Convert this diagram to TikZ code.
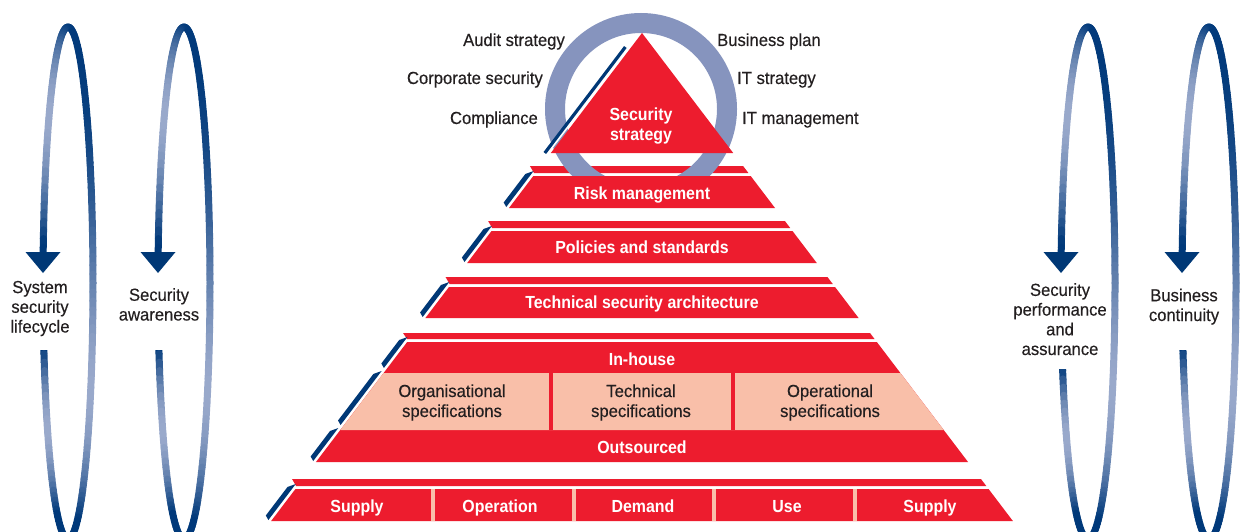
\documentclass[tikz,border=0pt]{standalone}
\usepackage{fontspec}
\setmainfont{Liberation Sans}
\newfontfamily\labelfont{Liberation Sans}[FakeStretch=0.95, FakeBold=0.35]
\newfontfamily\layerfont{Liberation Sans}[FakeStretch=0.91]

\definecolor{pyred}{RGB}{237,28,46}
\definecolor{peach}{RGB}{249,191,169}
\definecolor{navy}{RGB}{0,56,118}
\definecolor{ringblue}{RGB}{134,148,190}
\definecolor{loopdark}{RGB}{0,57,122}
\definecolor{looplight}{RGB}{186,193,221}
\definecolor{inkdark}{RGB}{35,31,32}

\tikzset{
  loopstroke/.style={line width=7pt, line cap=round},
  toplabel/.style={text=inkdark, inner sep=0pt, font=\labelfont\fontsize{17.5}{19.7}\selectfont},
  sidelabel/.style={toplabel, align=center, anchor=base},
  speclabel/.style={text=inkdark, inner sep=0pt, align=center, anchor=base,
    font=\labelfont\fontsize{17.5}{20}\selectfont},
  layerlabel/.style={text=white, inner sep=0pt, anchor=base, align=center,
    font=\layerfont\bfseries\fontsize{17.5}{20}\selectfont},
  divider/.style={line width=4pt},
}

% tall gradient loop: centre x, centre y, x radius, y radius, y where the lower left part resumes
\newcommand{\gradloop}[5]{%
  \begin{scope}[even odd rule]
    \clip ({#1-#3-20},0) rectangle ({#1+#3+20},545)
          ({#1-#3-20},252) rectangle (#1,#5);
    % right side: dark at the top, lightest low down
    \foreach \a in {0,2,...,178}{%
      \pgfmathsetmacro\yv{#2-#4*cos(\a+1)}%
      \pgfmathsetmacro\tv{max(0.001,min(1,(\yv-27)/493))}%
      \pgfmathtruncatemacro\mixp{100-82*sin(180*\tv^2.3)}%
      \draw[loopstroke, draw=loopdark!\mixp!looplight]
        ({#1+#3*sin(\a)},{#2-#4*cos(\a)}) -- ({#1+#3*sin(\a+2)},{#2-#4*cos(\a+2)});
    }
    % left side: two runs, above and below the label
    \foreach \a in {0,2,...,178}{%
      \pgfmathsetmacro\yv{#2-#4*cos(\a+1)}%
      \ifdim\yv pt<252pt
        \pgfmathsetmacro\tv{max(0.001,min(1,(\yv-27)/218))}%
        \pgfmathtruncatemacro\mixp{100-82*sin(180*\tv^0.8)}%
      \else
        \pgfmathsetmacro\tv{max(0,min(1,(\yv-#5)/(515-#5)))}%
        \pgfmathtruncatemacro\mixp{100-82*sin(180*\tv)}%
      \fi
      \draw[loopstroke, draw=loopdark!\mixp!looplight]
        ({#1-#3*sin(\a)},{#2-#4*cos(\a)}) -- ({#1-#3*sin(\a+2)},{#2-#4*cos(\a+2)});
    }
  \end{scope}
  \fill[navy] ({#1-#3-17.5},252) -- ({#1-#3+17.5},252) -- ({#1-#3},273) -- cycle;
}

% white ground and red top strip of one slab: strip top, strip bottom, face top, face bottom
\newcommand{\slabground}[4]{%
  \fill[white] ({xl(#1)-13},{#1-1}) -- ({xr(#1)+1},{#1-1}) -- ({xr(#4)+1},{#4+1}) -- ({xl(#4)-13},{#4+1}) -- cycle;
  \fill[pyred] ({xl(#1)-11},#1) -- ({xr(#1)},#1) -- ({xr(#2)},#2) -- ({xl(#1)-7},#2) -- cycle;
}
% red front face of a slab between two heights
\newcommand{\slabface}[2]{%
  \fill[pyred] ({xl(#1)},#1) -- ({xr(#1)},#1) -- ({xr(#2)},#2) -- ({xl(#2)},#2) -- cycle;
}
% dark blue side face running down the left edge
\newcommand{\sidebar}[2]{%
  \fill[navy] ({xl(#1-2)-3.5},{#1-2}) -- ({xl(#2)-3.5},#2) -- ({xl(#2-4.5)-9.5},{#2-4.5}) -- ({xl(#1+1)-9.5},{#1+1}) -- cycle;
}

\begin{document}
\begin{tikzpicture}[x=1pt, y=-1pt,
  declare function={xl(\t)=642-0.76*(\t-33); xr(\t)=642+0.76*(\t-33);}]
\useasboundingbox (0,0) rectangle (1241,532);

% ---- the four cycles at the sides
\gradloop{68}{283}{25}{256}{350}
\gradloop{184}{283}{26}{256}{350}
\gradloop{1088}{283}{27}{256}{369}
\gradloop{1209}{283}{27}{256}{350}

% multi-line labels are placed by the baseline of their last line
\node[sidelabel] (lifecycle) at (40,332.5) {System\\security\\lifecycle};
\node[sidelabel] (awareness) at (159,320.5) {Security\\awareness};
\node[sidelabel] (assurance) at (1060,355) {Security\\performance\\and\\assurance};
\node[sidelabel] (continuity) at (1184,321) {Business\\continuity};

% ---- first slab strip lies under the ring
\slabground{166}{173}{176}{208}

% ---- ring round the apex
\draw[ringblue, line width=20pt] (641,109) circle[radius=86];

% ---- apex triangle with its blue edge
\fill[pyred] (642,33) -- ({xr(153)},153) -- ({xl(153)},153) -- cycle;
\draw[white, line width=4pt] ({xl(45)-4.3},45) -- ({xl(153)-4.3},153);
\draw[navy, line width=3.2pt] ({xl(47)-6},47) -- ({xl(153)-6},153);

% ---- slabs
\slabface{176}{208}
\sidebar{173}{207}

\slabground{221}{228}{231}{263}
\slabface{231}{263}
\sidebar{228}{262}

\slabground{277}{284}{287}{318}
\slabface{287}{318}
\sidebar{284}{317}

\slabground{333}{339}{342}{462}
\slabface{342}{462}
\fill[peach] ({xl(373)},373) -- ({xr(373)},373) -- ({xr(430)},430) -- ({xl(430)},430) -- cycle;
\draw[pyred, divider] (551,373) -- (551,430);
\draw[pyred, divider] (733,373) -- (733,430);
\sidebar{339}{368}
\sidebar{373}{425}
\sidebar{430}{461}

\slabground{479}{486}{489}{521}
\slabface{489}{521}
\sidebar{486}{520}
\foreach \dx in {433,574,714,855}{\draw[peach, divider] (\dx,489) -- (\dx,521);}

% ---- labels
\node[toplabel, anchor=base east] (audit) at (565,46) {Audit strategy};
\node[toplabel, anchor=base east] (corporate) at (543,84) {Corporate security};
\node[toplabel, anchor=base east] (compliance) at (538,124) {Compliance};
\node[toplabel, anchor=base west] (bizplan) at (717,46) {Business plan};
\node[toplabel, anchor=base west] (itstrategy) at (737,84) {IT strategy};
\node[toplabel, anchor=base west] (itmanagement) at (742,124) {IT management};

\node[layerlabel] (secstrategy) at (641,140) {Security\\strategy};
\node[layerlabel] (risk) at (642,199) {Risk management};
\node[layerlabel] (policies) at (642,253) {Policies and standards};
\node[layerlabel] (architecture) at (642,308) {Technical security architecture};
\node[layerlabel] (inhouse) at (642,365) {In-house};
\node[speclabel] (orgspec) at (452,417) {Organisational\\specifications};
\node[speclabel] (techspec) at (641,417) {Technical\\specifications};
\node[speclabel] (opspec) at (830,417) {Operational\\specifications};
\node[layerlabel] (outsourced) at (642,453) {Outsourced};

\node[layerlabel] (supplyA) at (357,512) {Supply};
\node[layerlabel] (operation) at (500,512) {Operation};
\node[layerlabel] (demand) at (643,512) {Demand};
\node[layerlabel] (use) at (787,512) {Use};
\node[layerlabel] (supplyB) at (930,512) {Supply};
\end{tikzpicture}
\end{document}
